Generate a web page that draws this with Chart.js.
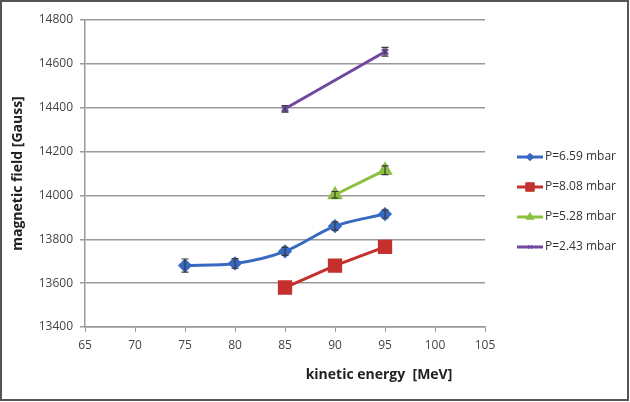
<!DOCTYPE html>
<html>
<head>
<meta charset="utf-8">
<script src="https://cdn.jsdelivr.net/npm/chart.js@4/dist/chart.umd.min.js"></script>
<style>
  body { margin: 0; background: #fff; }
  #wrap { width: 630px; height: 402px; }
</style>
</head>
<body>
<div id="wrap"><canvas id="chart" width="630" height="402"></canvas></div>
<script>
// values
const energy659 = [75, 80, 85, 90, 95];
const field659 = [13680, 13690, 13745, 13860, 13915];
const err659 = [30, 22, 18, 18, 18];

// red error bars are hidden inside the square markers
const energy808 = [85, 90, 95];
const field808 = [13580, 13680, 13765];
const err808 = [0, 0, 0];

const energy528 = [90, 95];
const field528 = [14003, 14115];
const err528 = [15, 20];

const energy243 = [85, 95];
const field243 = [14395, 14655];
const err243 = [15, 20];

const xTicks = [65, 70, 75, 80, 85, 90, 95, 100, 105];
const yTicks = [13400, 13600, 13800, 14000, 14200, 14400, 14600, 14800];

const FONT = "'Open Sans', 'Liberation Sans', sans-serif";

function pts(xs, ys, es) {
    return xs.map((x, i) => ({x: x, y: ys[i], err: es[i]}));
}

// error bars drawn through the chart's own scales
const errorBars = {
    id: 'errorBars',
    afterDatasetsDraw(chart) {
        const ctx = chart.ctx;
        const xs = chart.scales.x, ys = chart.scales.y;
        ctx.save();
        ctx.strokeStyle = '#3a3a3a';
        ctx.lineWidth = 1.2;
        chart.data.datasets.forEach(ds => {
            ds.data.forEach(p => {
                if (!p.err) return;
                const px = xs.getPixelForValue(p.x);
                const top = ys.getPixelForValue(p.y + p.err);
                const bot = ys.getPixelForValue(p.y - p.err);
                ctx.beginPath();
                ctx.moveTo(px, top); ctx.lineTo(px, bot);
                ctx.moveTo(px - 3.5, top); ctx.lineTo(px + 3.5, top);
                ctx.moveTo(px - 3.5, bot); ctx.lineTo(px + 3.5, bot);
                ctx.stroke();
            });
        });
        ctx.restore();
    }
};

// frame, x title and the legend
const extras = {
    id: 'extras',
    afterDraw(chart) {
        const ctx = chart.ctx;
        ctx.save();
        ctx.strokeStyle = '#555';
        ctx.lineWidth = 2;
        ctx.strokeRect(1, 1, 627, 399);

        ctx.fillStyle = '#222';
        ctx.font = 'bold 14px ' + FONT;
        ctx.textAlign = 'center';
        ctx.textBaseline = 'middle';
        ctx.fillText('kinetic energy  [MeV]', 379, 375);

        ctx.font = '12px ' + FONT;
        ctx.textAlign = 'left';
        chart.data.datasets.forEach((ds, i) => {
            const y = 157 + i * 30;
            ctx.strokeStyle = ds.borderColor;
            ctx.fillStyle = ds.borderColor;
            ctx.lineWidth = 3;
            ctx.beginPath();
            ctx.moveTo(517, y); ctx.lineTo(543, y);
            ctx.stroke();
            ctx.lineWidth = 1;
            Chart.helpers.drawPoint(ctx, {
                pointStyle: ds.pointStyle,
                radius: ds.pointRadius * 0.75,
                borderWidth: 1
            }, 530, y);
            ctx.fillStyle = '#333';
            ctx.fillText(ds.label, 545, y);
        });
        ctx.restore();
    }
};

function setStyle(ds) {
    ds.backgroundColor = ds.borderColor;
    ds.pointBackgroundColor = ds.borderColor;
    ds.pointBorderColor = ds.borderColor;
    ds.borderWidth = 3;
    return ds;
}

new Chart(document.getElementById('chart'), {
    type: 'line',
    data: {
        datasets: [
            setStyle({label: 'P=6.59 mbar', data: pts(energy659, field659, err659),
                borderColor: '#3769c0', pointStyle: 'rectRot', pointRadius: 5,
                cubicInterpolationMode: 'monotone'}),
            setStyle({label: 'P=8.08 mbar', data: pts(energy808, field808, err808),
                borderColor: '#c4302e', pointStyle: 'rect', pointRadius: 8, tension: 0}),
            setStyle({label: 'P=5.28 mbar', data: pts(energy528, field528, err528),
                borderColor: '#8cc040', pointStyle: 'triangle', pointRadius: 6, tension: 0}),
            setStyle({label: 'P=2.43 mbar', data: pts(energy243, field243, err243),
                borderColor: '#7048a0', pointStyle: 'crossRot', pointRadius: 4, tension: 0})
        ]
    },
    options: {
        responsive: false,
        animation: false,
        layout: { padding: { left: 0, right: 145, top: 20, bottom: 0 } },
        plugins: { legend: { display: false }, tooltip: { enabled: false } },
        scales: {
            x: {
                type: 'linear',
                min: 65, max: 105,
                afterBuildTicks: s => { s.ticks = xTicks.map(v => ({value: v})); },
                afterFit: s => { s.height = 75; },
                grid: { drawOnChartArea: false, drawTicks: true, tickLength: 5, color: '#999' },
                border: { color: '#999', width: 1.5 },
                ticks: { padding: 6, color: '#444', font: { family: FONT, size: 12 }, maxRotation: 0,
                    callback: v => String(v) }
            },
            y: {
                min: 13400, max: 14800,
                afterBuildTicks: s => { s.ticks = yTicks.map(v => ({value: v})); },
                afterFit: s => { s.width = 85; },
                grid: { color: '#999', lineWidth: 1.5, tickLength: 5 },
                border: { color: '#999', width: 1.5 },
                ticks: { padding: 7, color: '#444', font: { family: FONT, size: 12 },
                    callback: v => String(v) },
                title: {
                    display: true,
                    text: 'magnetic field [Gauss]',
                    color: '#222',
                    font: { family: FONT, size: 14, weight: 'bold' },
                    padding: { top: 10, bottom: 0 }
                }
            }
        }
    },
    plugins: [errorBars, extras]
});
</script>
</body>
</html>
